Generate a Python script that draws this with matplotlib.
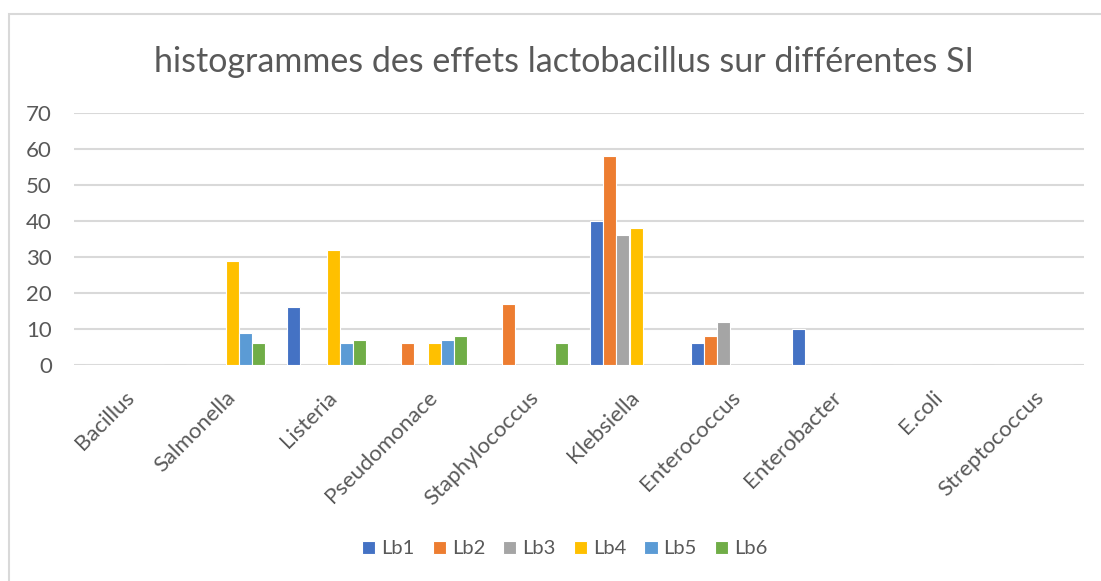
import matplotlib
matplotlib.use("Agg")
import matplotlib.pyplot as plt
import numpy as np
from matplotlib.patches import Rectangle

categories = ["Bacillus", "Salmonella", "Listeria", "Pseudomonace", "Staphylococcus",
              "Klebsiella", "Enterococcus", "Enterobacter", "E.coli", "Streptococcus"]
series = ["Lb1", "Lb2", "Lb3", "Lb4", "Lb5", "Lb6"]
lb1 = [0, 0, 16, 0, 0, 40, 6, 10, 0, 0]
lb2 = [0, 0, 0, 6, 17, 58, 8, 0, 0, 0]
lb3 = [0, 0, 0, 0, 0, 36, 12, 0, 0, 0]
lb4 = [0, 29, 32, 6, 0, 38, 0, 0, 0, 0]
lb5 = [0, 9, 6, 7, 0, 0, 0, 0, 0, 0]
lb6 = [0, 6, 7, 8, 6, 0, 0, 0, 0, 0]
colors = ["#4472c4", "#ed7d31", "#a5a5a5", "#ffc000", "#5b9bd5", "#70ad47"]

plt.rcParams["font.family"] = ["Lato", "DejaVu Sans"]
TXT = "#595959"

fig = plt.figure(figsize=(11.01, 5.81), dpi=100)
fig.patches.append(Rectangle((9 / 1101, -0.01), 1.1, 1 - 14 / 581 + 0.01, transform=fig.transFigure,
                             fill=False, edgecolor="#d9d9d9", lw=1.5))
ax = fig.add_axes([74 / 1101, 1 - 365 / 581, 1010 / 1101, 252 / 581])

x = np.arange(len(categories))
slot = 0.13
for i, (name, vals) in enumerate(zip(series, [lb1, lb2, lb3, lb4, lb5, lb6])):
    ax.bar(x + (i - 2.5) * slot, vals, width=slot, color=colors[i], edgecolor="white",
           linewidth=0.8, label=name, zorder=3)

ax.set_xlim(-0.5, len(categories) - 0.5)
ax.set_ylim(0, 70)
ax.set_yticks(range(0, 71, 10))
ax.grid(axis="y", color="#d9d9d9", lw=1.5, zorder=0)
for s in ax.spines.values():
    s.set_visible(False)
ax.tick_params(length=0, labelsize=16, labelcolor=TXT)
ax.tick_params(axis="y", pad=16)
ax.set_xticks(x)
ax.set_xticklabels(categories, rotation=45, ha="right", rotation_mode="anchor")
ax.tick_params(axis="x", pad=16)

fig.text(0.512, 1 - 62 / 581, "histogrammes des effets lactobacillus sur différentes SI",
         ha="center", va="center", fontsize=24.5, color=TXT)
fig.legend(loc="center", bbox_to_anchor=(0.513, 1 - 549 / 581), ncol=6, frameon=False,
           fontsize=14.5, labelcolor=TXT, handlelength=0.65, handleheight=0.65,
           handletextpad=0.3, columnspacing=0.9)

fig.savefig("out.png", dpi=100)
